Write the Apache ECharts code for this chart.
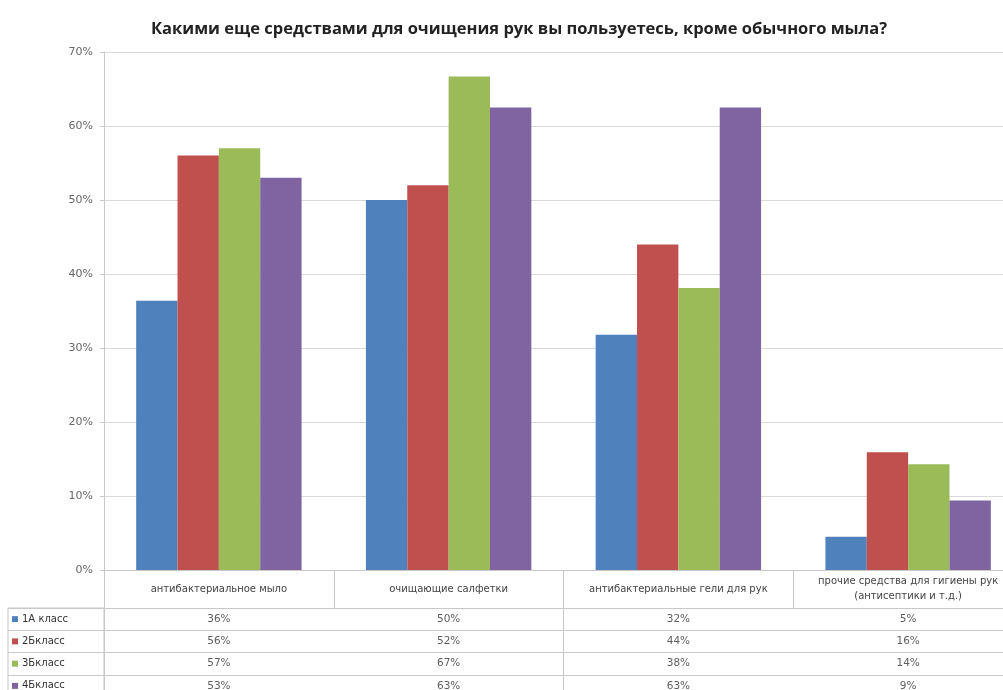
<!DOCTYPE html>
<html>
<head>
<meta charset="utf-8">
<script src="https://cdn.jsdelivr.net/npm/echarts@6/dist/echarts.min.js"></script>
<style>
html,body{margin:0;padding:0;background:#fff;}
#c{width:1003px;height:690px;}
</style>
</head>
<body>
<div id="c"></div>
<script>
const titleText = 'Какими еще средствами для очищения рук вы пользуетесь, кроме обычного мыла?';
const categories = [
  'антибактериальное мыло',
  'очищающие салфетки',
  'антибактериальные гели для рук',
  'прочие средства для гигиены рук\n(антисептики и т.д.)'
];
const seriesNames = ['1А класс', '2Бкласс', '3Бкласс', '4Бкласс'];
const class1A = [36.4, 50.0, 31.8, 4.5];
const class2B = [56.0, 52.0, 44.0, 15.9];
const class3B = [57.0, 66.7, 38.1, 14.3];
const class4B = [53.0, 62.5, 62.5, 9.4];
const yTicks = [0, 10, 20, 30, 40, 50, 60, 70];

const seriesValues = [class1A, class2B, class3B, class4B];
const colors = ['#4F81BD', '#C0504D', '#9BBB59', '#8064A2'];
const lineColor = '#c8c8c8';
const fontFam = '"DejaVu Sans", "Liberation Sans", sans-serif';

const barSeries = seriesValues.map((vals, i) => ({
  name: seriesNames[i],
  type: 'bar',
  xAxisIndex: 0, yAxisIndex: 0,
  data: vals,
  barGap: '0%',
  barCategoryGap: '28%',
  itemStyle: { color: colors[i] }
}));

const cellData = [];
seriesValues.forEach((vals, r) => vals.forEach((v, c) => cellData.push([c, r, v])));

const rich = { t: { fontSize: 10, color: '#333', fontFamily: fontFam, padding: [0, 0, 0, 4] } };
colors.forEach((col, i) => { rich['s' + i] = { width: 6, height: 6, backgroundColor: col }; });

const chart = echarts.init(document.getElementById('c'), null, { renderer: 'canvas' });
chart.setOption({
  backgroundColor: '#fff',
  animation: false,
  title: {
    text: titleText, left: 146, top: 16,
    textStyle: { fontSize: 16.5, fontWeight: 'bold', color: '#222', fontFamily: '"Open Sans", "Noto Sans", sans-serif' }
  },
  grid: [
    { left: 104, top: 52, width: 919, height: 518, outerBoundsMode: 'none', containLabel: false },
    { left: 104, top: 608, width: 919, height: 89, outerBoundsMode: 'none', containLabel: false },
    { left: 8, top: 608, width: 96, height: 89, show: true, borderColor: lineColor, borderWidth: 1, outerBoundsMode: 'none', containLabel: false }
  ],
  xAxis: [
    {
      type: 'category', gridIndex: 0, data: categories,
      axisLine: { lineStyle: { color: lineColor } },
      axisTick: { show: true, length: 38, lineStyle: { color: lineColor } },
      axisLabel: { color: '#444', fontSize: 10, fontFamily: fontFam, margin: 19, verticalAlign: 'middle', lineHeight: 15, interval: 0 },
      splitLine: { show: false }
    },
    {
      type: 'category', gridIndex: 1, data: categories,
      axisLine: { show: false }, axisTick: { show: false }, axisLabel: { show: false },
      splitLine: { show: true, lineStyle: { color: lineColor } }
    },
    { type: 'value', gridIndex: 2, show: false }
  ],
  yAxis: [
    {
      type: 'value', gridIndex: 0, min: 0, max: 70, interval: 10,
      axisLine: { show: true, lineStyle: { color: lineColor } },
      axisTick: { show: true, length: 4, lineStyle: { color: lineColor } },
      axisLabel: { formatter: v => v + '%', color: '#666', fontSize: 11, fontFamily: fontFam, margin: 11 },
      splitLine: { show: true, lineStyle: { color: '#d9d9d9' } }
    },
    {
      type: 'category', gridIndex: 1, data: seriesNames, inverse: true,
      axisLine: { show: false }, axisTick: { show: false }, axisLabel: { show: false },
      splitLine: { show: true, lineStyle: { color: lineColor } }
    },
    {
      type: 'category', gridIndex: 2, data: seriesNames, inverse: true,
      axisLine: { show: false }, axisTick: { show: false },
      axisLabel: {
        inside: true, margin: 4, align: 'left',
        formatter: (v, i) => '{s' + i + '|}{t|' + v + '}',
        rich: rich
      },
      splitLine: { show: true, lineStyle: { color: lineColor } }
    }
  ],
  series: barSeries.concat([{
    type: 'scatter', xAxisIndex: 1, yAxisIndex: 1,
    data: cellData, symbolSize: 0, silent: true,
    label: {
      show: true, position: 'inside',
      formatter: p => Math.round(p.value[2]) + '%',
      color: '#333', fontSize: 10.5, fontFamily: fontFam
    }
  }])
});
</script>
</body>
</html>
